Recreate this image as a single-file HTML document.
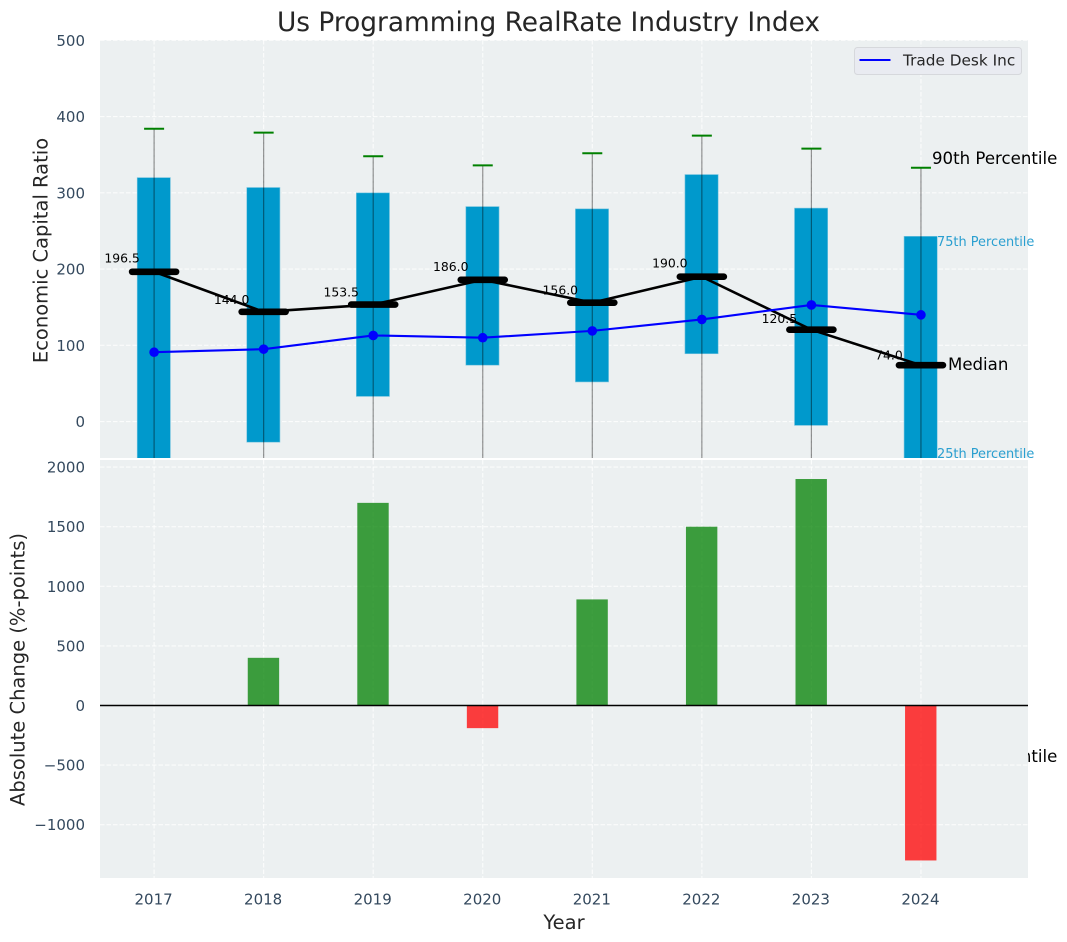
<!DOCTYPE html>
<html lang="en">
<head>
<meta charset="utf-8">
<title>Us Programming RealRate Industry Index</title>
<style>
html,body{margin:0;padding:0;background:#fff;width:1067px;height:942px;overflow:hidden}
svg{display:block;font-family:"DejaVu Sans","Liberation Sans",sans-serif}
</style>
</head>
<body>
<svg id="chart" xmlns="http://www.w3.org/2000/svg" width="1067" height="942" viewBox="0 0 1067 942">
  <defs>
    <clipPath id="top-clip"><rect x="100" y="40" width="928" height="418"/></clipPath>
    <clipPath id="bottom-clip"><rect x="100" y="460" width="928" height="418"/></clipPath>
  </defs>
  <rect width="1067" height="942" fill="#fff"/>
  <text x="548.5" y="31" text-anchor="middle" font-size="26.4" fill="#262626">Us Programming RealRate Industry Index</text>

  <rect x="100" y="40" width="928" height="418" fill="#ecf0f1"/>
  <g id="top-grid"></g>
  <g id="top-marks" clip-path="url(#top-clip)"></g>
  <g id="top-labels"></g>
  <g id="top-lines" clip-path="url(#top-clip)"></g>
  <text x="932" y="164" font-size="16.6" fill="#000">90th Percentile</text>
  <text x="937" y="246" font-size="12.9" fill="#2a9fd0">75th Percentile</text>
  <text x="948" y="370" font-size="16.6" fill="#000">Median</text>
  <text x="937" y="458" font-size="12.9" fill="#2a9fd0">25th Percentile</text>
  <text x="932" y="762" font-size="16.6" fill="#000">10th Percentile</text>

  <g>
    <rect x="854.5" y="47.5" width="167" height="27" rx="3" fill="#e9ebf1" stroke="#d6d8dc" stroke-width="1"/>
    <line x1="859.5" x2="890.5" y1="60" y2="60" stroke="#0000ff" stroke-width="2"/>
    <text x="903" y="65.5" font-size="15.3" fill="#262626">Trade Desk Inc</text>
  </g>

  <rect x="100" y="460" width="928" height="418" fill="#ecf0f1"/>
  <g id="bottom-grid"></g>
  <g id="bottom-marks" clip-path="url(#bottom-clip)"></g>
  <line x1="100" x2="1028" y1="705.5" y2="705.5" stroke="#000" stroke-width="1.4"/>
  <g id="tick-labels"></g>

  <text transform="translate(47.5,250.5) rotate(-90)" text-anchor="middle" font-size="19.5" fill="#262626">Economic Capital Ratio</text>
  <text transform="translate(24.5,669.5) rotate(-90)" text-anchor="middle" font-size="19.5" fill="#262626">Absolute Change (%-points)</text>
  <text x="564" y="929" text-anchor="middle" font-size="19.5" fill="#262626">Year</text>
</svg>
<script>
const years = [2017, 2018, 2019, 2020, 2021, 2022, 2023, 2024];
const q1Values = [-100, -27, 33, 74, 52, 89, -5, -60];
const q3Values = [320, 307, 300, 282, 279, 324, 280, 243];
const medianValues = [196.5, 144.0, 153.5, 186.0, 156.0, 190.0, 120.5, 74.0];
const p10Values = [-180, -150, -120, -90, -110, -100, -140, -170];
const p90Values = [384, 379, 348, 336, 352, 375, 358, 333];
const companyValues = [91, 95, 113, 110, 119, 134, 153, 140];
const changeValues = [0, 400, 1700, -190, 890, 1500, 1900, -1300];
const topTicks = [0, 100, 200, 300, 400, 500];
const bottomTicks = [-1000, -500, 0, 500, 1000, 1500, 2000];

const xScale = function (year) { return 154.1 + (year - 2017) * 109.55; };
const yTop = function (v) { return 421.6 - v * 0.7625; };
const yBottom = function (v) { return 705.5 - v * 0.1192; };
const NS = 'http://www.w3.org/2000/svg';

function make(tag, parent, props, text) {
  const el = document.createElementNS(NS, tag);
  for (const k in props) { el.setAttribute(k, props[k]); }
  if (text !== undefined) { el.textContent = text; }
  parent.appendChild(el);
  return el;
}
function gridProps(x1, y1, x2, y2) {
  return { x1: x1, y1: y1, x2: x2, y2: y2, stroke: '#ffffff', 'stroke-width': 1.1, 'stroke-opacity': 0.8, 'stroke-dasharray': '4.5 2' };
}

const topGrid = document.getElementById('top-grid');
const bottomGrid = document.getElementById('bottom-grid');
const topMarks = document.getElementById('top-marks');
const bottomMarks = document.getElementById('bottom-marks');
const topLabels = document.getElementById('top-labels');
const topLines = document.getElementById('top-lines');
const tickLabels = document.getElementById('tick-labels');

topTicks.forEach(function (t) {
  const g = make('line', topGrid, gridProps(100, yTop(t), 1028, yTop(t)));
  
  
  const label = make('text', tickLabels, { x: 85, y: yTop(t) + 5.5, 'text-anchor': 'end', 'font-size': 15, fill: '#34495e' }, String(t));
  
  
});

bottomTicks.forEach(function (t) {
  const g = make('line', bottomGrid, gridProps(100, yBottom(t), 1028, yBottom(t)));
  
  
  const label = make('text', tickLabels, { x: 85, y: yBottom(t) + 5.5, 'text-anchor': 'end', 'font-size': 15, fill: '#34495e' }, String(t).replace('-', '\u2212'));
  
  
});

years.forEach(function (year, i) {
  const x = xScale(year);

  const gt = make('line', topGrid, gridProps(x, 40, x, 458));
  
  

  const gb = make('line', bottomGrid, gridProps(x, 460, x, 878));
  
  

  const tick = make('text', tickLabels, { x: x - 0.5, y: 904.5, 'text-anchor': 'middle', 'font-size': 15, fill: '#34495e' }, String(year));
  
  

  const box = make('rect', topMarks, { x: x - 16.9, y: yTop(q3Values[i]), width: 33.2, height: yTop(q1Values[i]) - yTop(q3Values[i]), fill: '#0099cc', stroke: '#7cc6e0', 'stroke-width': 0.6 });
  
  

  const whisker = make('line', topMarks, { x1: x, x2: x, y1: yTop(p90Values[i]), y2: yTop(p10Values[i]), stroke: '#000', 'stroke-opacity': 0.42, 'stroke-width': 1.2 });
  
  

  const cap = make('line', topMarks, { x1: x - 10, x2: x + 10, y1: yTop(p90Values[i]), y2: yTop(p90Values[i]), stroke: '#008000', 'stroke-width': 2 });
  
  

  const v = medianValues[i];
  const valueLabel = make('text', topLabels, { x: x - 32, y: yTop(v + 10 + 0.04 * v) + 4.4, 'text-anchor': 'middle', 'font-size': 12.4, fill: '#000' }, v.toFixed(1));
  
  

  const change = changeValues[i];
  const bar = make('rect', bottomMarks, { x: x - 15.9, y: Math.min(yBottom(change), yBottom(0)), width: 31.4, height: Math.abs(yBottom(change) - yBottom(0)), fill: change >= 0 ? '#008000' : '#ff0000', 'fill-opacity': 0.75 });
  
  
});

const medianPath = make('polyline', topLines, { points: years.map(function (y, i) { return xScale(y) + ',' + yTop(medianValues[i]); }).join(' '), fill: 'none', stroke: '#000', 'stroke-width': 2.6 });



years.forEach(function (year, i) {
  const x = xScale(year);
  const y = yTop(medianValues[i]);
  const tickMark = make('line', topLines, { x1: x - 22, x2: x + 22, y1: y, y2: y, stroke: '#000', 'stroke-width': 6.6, 'stroke-linecap': 'round' });
  
  
});

const companyPath = make('polyline', topLines, { points: years.map(function (y, i) { return xScale(y) + ',' + yTop(companyValues[i]); }).join(' '), fill: 'none', stroke: '#0000ff', 'stroke-width': 2.1 });



years.forEach(function (year, i) {
  const dot = make('circle', topLines, { cx: xScale(year), cy: yTop(companyValues[i]), r: 4.8, fill: '#0000ff' });
  
  
});
</script>
</body>
</html>
